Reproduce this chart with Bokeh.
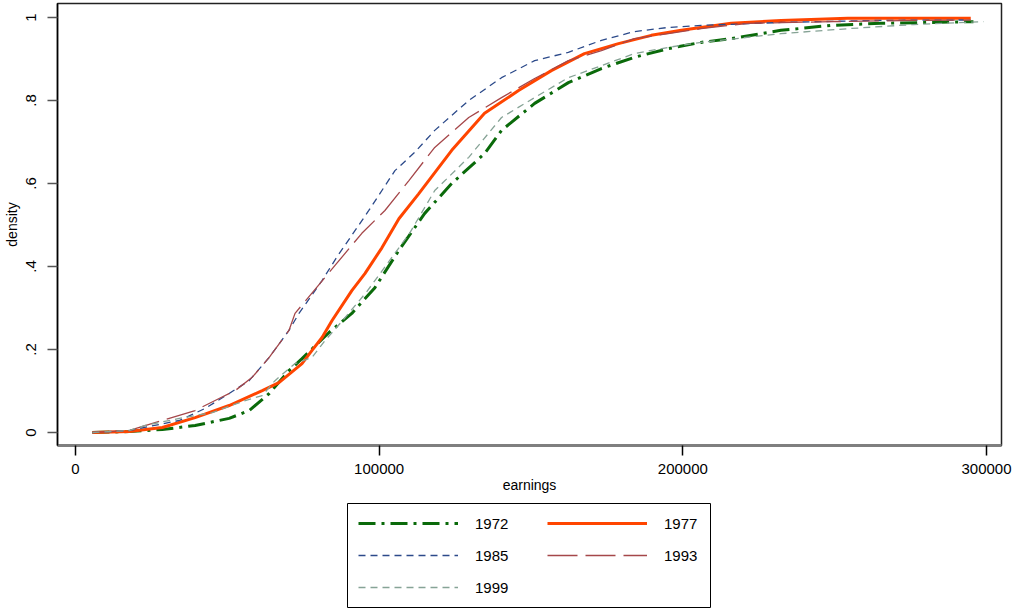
from bokeh.plotting import figure
from bokeh.models import Legend, LegendItem, FixedTicker
from bokeh.embed import file_html
from bokeh.resources import INLINE

# ---- data ----
earn_1972 = [5600, 17700, 28600, 39400, 50600, 57200, 63800, 70300, 74600, 83500, 91000, 98600,
             106500, 115000, 123900, 134700, 140300, 151200, 162300, 173200, 184000, 195200,
             206000, 215900, 232300, 248800, 265200, 281600, 295700]
cdf_1972 = [0.0, 0.0024, 0.0072, 0.017, 0.034, 0.053, 0.094, 0.149, 0.178, 0.241, 0.287, 0.349,
            0.439, 0.528, 0.600, 0.672, 0.728, 0.793, 0.843, 0.877, 0.904, 0.925,
            0.940, 0.949, 0.969, 0.981, 0.986, 0.988, 0.990]

earn_1977 = [5600, 17700, 28600, 39400, 50600, 61500, 67000, 74600, 77900, 81200, 84500, 91000,
             95300, 100900, 106500, 113000, 123900, 134700, 145900, 156700, 167600, 178800,
             189600, 199500, 215900, 232300, 254300, 276000, 294800]
cdf_1977 = [0.0, 0.0024, 0.012, 0.036, 0.065, 0.101, 0.120, 0.166, 0.198, 0.229, 0.270, 0.342,
            0.383, 0.445, 0.515, 0.575, 0.680, 0.769, 0.824, 0.872, 0.913, 0.937,
            0.957, 0.969, 0.986, 0.993, 0.998, 0.998, 0.998]

earn_1985 = [5600, 17700, 34200, 42700, 50600, 57200, 63800, 70300, 73600, 81200, 86000, 96600,
             105200, 111700, 118300, 129500, 140300, 151200, 162300, 173200, 184000, 195200,
             206000, 232300, 265200, 292500]
cdf_1985 = [0.0, 0.0048, 0.029, 0.058, 0.094, 0.125, 0.181, 0.246, 0.287, 0.366, 0.422, 0.535,
            0.631, 0.675, 0.728, 0.800, 0.855, 0.896, 0.916, 0.945, 0.966, 0.976,
            0.981, 0.988, 0.993, 0.994]

earn_1993 = [5600, 17700, 28600, 39400, 47300, 52600, 58200, 63800, 70300, 72300, 85400, 94300,
             101900, 109800, 118300, 129500, 140300, 151200, 162300, 173200, 184000, 195200,
             206000, 221500, 248800, 276000, 294800]
cdf_1993 = [0.0, 0.0048, 0.029, 0.053, 0.082, 0.101, 0.133, 0.181, 0.246, 0.287, 0.402, 0.480,
            0.535, 0.607, 0.687, 0.759, 0.807, 0.853, 0.896, 0.920, 0.949, 0.961,
            0.973, 0.986, 0.990, 0.993, 0.994]

earn_1999 = [5600, 17700, 23000, 34200, 45000, 55900, 61500, 65700, 72300, 77900, 82000, 88000,
             96000, 104000, 110000, 118300, 129500, 140300, 151200, 162300, 173200, 184000,
             195200, 206000, 232300, 254300, 276000, 299000]
cdf_1999 = [0.0, 0.0048, 0.017, 0.034, 0.048, 0.077, 0.089, 0.125, 0.166, 0.181, 0.220, 0.270,
            0.340, 0.420, 0.480, 0.583, 0.663, 0.759, 0.807, 0.855, 0.884, 0.913,
            0.928, 0.940, 0.961, 0.973, 0.983, 0.990]

years = ["1972", "1977", "1985", "1993", "1999"]

x_ticks = [0, 100000, 200000, 300000]
x_tick_labels = ["0", "100000", "200000", "300000"]
y_ticks = [0, 0.2, 0.4, 0.6, 0.8, 1.0]
y_tick_labels = ["0", ".2", ".4", ".6", ".8", "1"]

FONT = "Liberation Sans"

styles = [
    dict(line_color="#0a6a0a", line_width=3, line_dash="17 6 3 6"),
    dict(line_color="#ff4500", line_width=3),
    dict(line_color="#2c4a8a", line_width=1.3, line_dash="7 5"),
    dict(line_color="#a5474a", line_width=1.3, line_dash="30 8"),
    dict(line_color="#86a396", line_width=1.3, line_dash="7 5"),
]
series = [(earn_1972, cdf_1972), (earn_1977, cdf_1977), (earn_1985, cdf_1985),
          (earn_1993, cdf_1993), (earn_1999, cdf_1999)]

p = figure(width=1016, height=500, x_range=(-5914, 304930), y_range=(-0.0313, 1.0337),
           output_backend="svg", toolbar_location=None,
           min_border_left=55, min_border_right=15, min_border_top=3, min_border_bottom=55)
p.background_fill_color = "white"
p.border_fill_color = "white"
p.xgrid.visible = False
p.ygrid.visible = False
p.outline_line_color = "#222222"
p.outline_line_width = 1.5

for (xs, ys), st in zip(series, styles):
    p.line(xs, ys, **st)

# axes
p.xaxis.ticker = FixedTicker(ticks=x_ticks)
p.xaxis.major_label_overrides = {t: l for t, l in zip(x_ticks, x_tick_labels)}
p.yaxis.ticker = FixedTicker(ticks=y_ticks)
p.yaxis.major_label_overrides = {t: l for t, l in zip(y_ticks, y_tick_labels)}
p.xaxis.minor_tick_line_color = None
p.yaxis.minor_tick_line_color = None
for ax in (p.xaxis, p.yaxis):
    ax.major_tick_in = 0
    ax.major_tick_out = 10
    ax.major_label_text_font = FONT
    ax.major_label_text_font_size = "15px"
    ax.major_label_text_color = "black"
    ax.axis_label_text_font = FONT
    ax.axis_label_text_font_size = "14px"
    ax.axis_label_text_font_style = "normal"
    ax.axis_label_text_color = "black"
p.xaxis.axis_label = "earnings"
p.yaxis.axis_label = "density"
p.xaxis.axis_line_color = "#7f7f7f"
p.xaxis.axis_line_width = 3
p.xaxis.major_tick_line_color = "black"
p.xaxis.major_tick_line_width = 1.5
p.yaxis.axis_line_color = "black"
p.yaxis.axis_line_width = 1.5
p.yaxis.major_tick_line_color = "#555555"
p.yaxis.major_tick_line_width = 1.5
p.xaxis.major_label_standoff = 8
p.xaxis.axis_label_standoff = 0
p.yaxis.major_label_standoff = 11
p.yaxis.axis_label_standoff = 4
p.yaxis.major_label_orientation = "vertical"

# ---- legend strip under the plot (separate root): its frame outline is the legend box ----
lg = figure(width=1016, height=111, x_range=(0, 1), y_range=(0, 1),
            output_backend="svg", toolbar_location=None,
            x_axis_location=None, y_axis_location=None,
            min_border_left=347, min_border_right=306, min_border_top=3, min_border_bottom=4)
lg.xgrid.visible = False
lg.ygrid.visible = False
lg.outline_line_color = "black"
lg.outline_line_width = 1
lg.background_fill_color = "white"
lg.border_fill_color = "white"
rend = {}
for yr, (xs, ys), st in zip(years, series, styles):
    # same series, lying outside this strip's range: only their legend glyphs show
    rend[yr] = lg.line(xs, ys, **st)


def make_legend(labels, loc):
    lgd = Legend(items=[LegendItem(label=l, renderers=[rend[l]]) for l in labels],
                 orientation="vertical", location=loc)
    lgd.label_text_font = FONT
    lgd.label_text_font_size = "15px"
    lgd.label_text_color = "black"
    lgd.glyph_width = 100
    lgd.glyph_height = 18
    lgd.label_standoff = 17
    lgd.spacing = 14
    lgd.padding = 0
    lgd.margin = 0
    lgd.border_line_color = None
    lgd.background_fill_alpha = 0
    return lgd


lg.add_layout(make_legend(["1972", "1985", "1999"], (11, 11)), "center")
lg.add_layout(make_legend(["1977", "1993"], (200, 43)), "center")

open("out.html", "w").write(file_html([p, lg], INLINE))
